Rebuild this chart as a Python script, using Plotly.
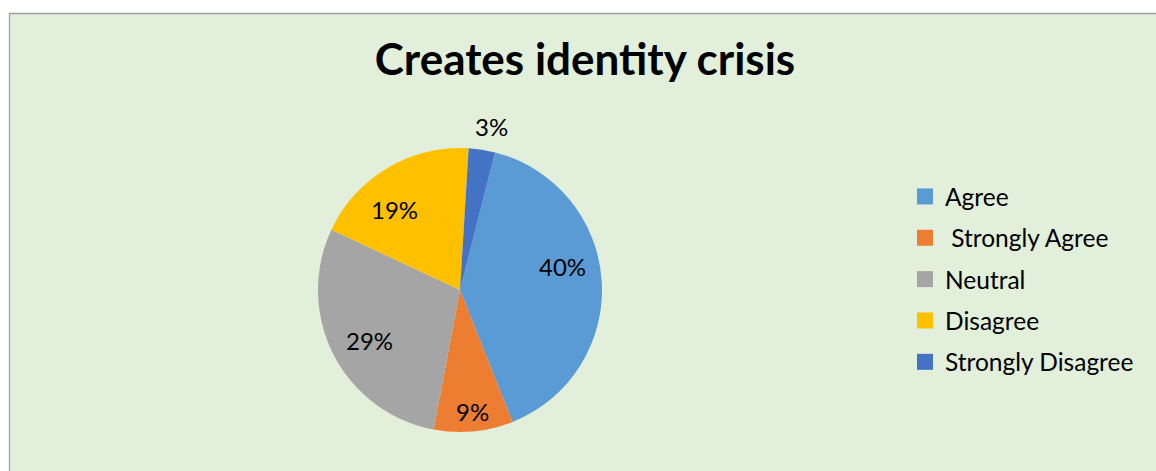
import math
import plotly.graph_objects as go

# Survey responses for "Creates identity crisis"
labels = ["Agree", " Strongly Agree", "Neutral", "Disagree", "Strongly Disagree"]
shares = [40, 9, 29, 19, 3]
colors = ["#5B9BD5", "#ED7D31", "#A5A5A5", "#FFC000", "#4472C4"]

W, H = 1156, 471
BG = "#E2EFDA"
FONT = "Lato"

# Pie geometry in pixels
cx, cy, r = 460, 290, 142
start_angle = 14.3  # degrees clockwise from 12 o'clock
# best-fit style label placement: distance from centre (fraction of radius)
# and a small angular nudge (degrees) away from the slice's mid-angle
label_radius = [0.74, 0.86, 0.73, 0.735, 1.17]
label_nudge = [-9.0, -0.5, -2.0, -8.5, 2.0]


def show(lab):
    # keep a leading space visible in SVG text
    return lab.replace(" ", "\u00a0", 1) if lab.startswith(" ") else lab


fig = go.Figure()

fig.add_trace(go.Pie(
    labels=[show(l) for l in labels],
    values=shares,
    sort=False,
    direction="clockwise",
    rotation=start_angle,
    marker=dict(colors=colors, line=dict(width=0)),
    textinfo="none",
    domain=dict(x=[(cx - r) / W, (cx + r) / W], y=[(H - cy - r) / H, (H - cy + r) / H]),
    showlegend=False,
    hoverinfo="label+percent",
))

# Percentage labels placed around each slice's mid-angle
total = sum(shares)
annotations = []
acc = 0.0
for v, f, nudge in zip(shares, label_radius, label_nudge):
    mid = math.radians(start_angle + 360.0 * (acc + v / 2) / total + nudge)
    acc += v
    px = cx + f * r * math.sin(mid)
    py = cy - f * r * math.cos(mid)
    annotations.append(dict(
        x=px / W, y=1 - py / H, xref="paper", yref="paper",
        text=f"{v}%", showarrow=False, xanchor="center", yanchor="middle",
        font=dict(family=FONT, size=24, color="#000000"),
    ))

# Legend entries, one group each so the rows can be spaced apart
for i, (lab, col) in enumerate(zip(labels, colors)):
    fig.add_trace(go.Scatter(
        x=[None], y=[None], mode="markers",
        name=show(lab),
        marker=dict(symbol="square", size=16, color=col),
        legendgroup=f"g{i}",
        showlegend=True,
    ))

fig.update_layout(
    width=W, height=H,
    margin=dict(l=0, r=0, t=0, b=0),
    paper_bgcolor="#FFFFFF",
    plot_bgcolor="rgba(0,0,0,0)",
    xaxis=dict(visible=False),
    yaxis=dict(visible=False),
    font=dict(family=FONT, color="#000000"),
    title=dict(
        text="<b>Creates identity crisis</b>",
        font=dict(family=FONT, size=44, color="#000000"),
        x=585 / W, xanchor="center", xref="paper",
        y=1 - 44 / H, yanchor="top", yref="paper",
    ),
    legend=dict(
        x=905 / W, xanchor="left",
        y=1 - 174 / H, yanchor="top",
        font=dict(family=FONT, size=24.5, color="#000000"),
        bgcolor="rgba(0,0,0,0)",
        tracegroupgap=6.5,
        itemclick=False, itemdoubleclick=False,
    ),
    annotations=annotations,
    shapes=[dict(
        type="rect", xref="paper", yref="paper", layer="below",
        x0=9.5 / W, x1=1.01, y0=-0.01, y1=1 - 13.5 / H,
        fillcolor=BG, line=dict(color="#A0A0A0", width=1.3),
    )],
)

fig.write_html("out.html")
